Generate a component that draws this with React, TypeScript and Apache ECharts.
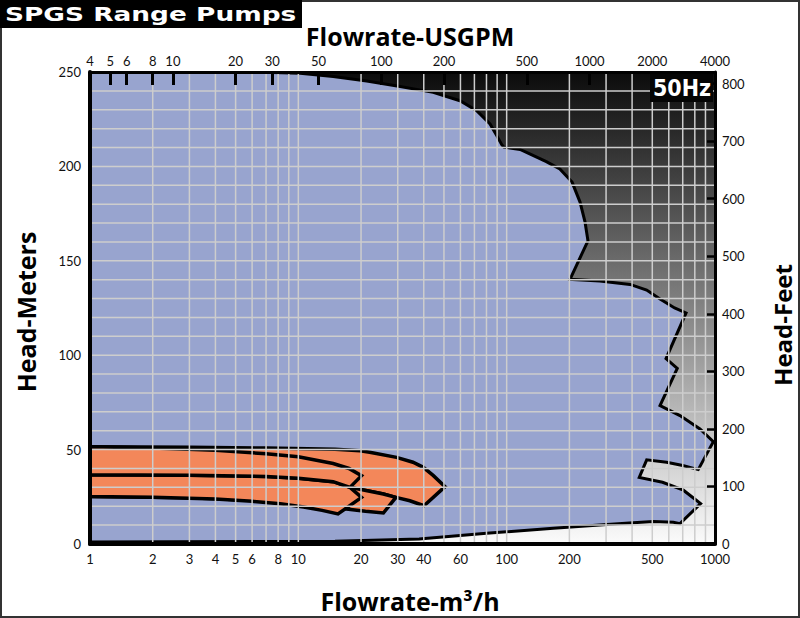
import React, { useEffect, useRef } from 'react';
import * as echarts from 'echarts';

// ---------- axis ticks / labels ----------
const BOTTOM_LABELS_M3H = [1, 2, 3, 4, 5, 6, 8, 10, 20, 30, 40, 60, 100, 200, 500, 1000];
const TOP_LABELS_GPM = [4, 5, 6, 8, 10, 20, 30, 50, 100, 200, 500, 1000, 2000, 4000];
const GRID_Q = [2, 3, 4, 5, 6, 7, 8, 9, 10, 20, 30, 40, 50, 60, 70, 80, 90, 100, 200, 300, 400, 500, 600, 700, 800, 900];
const GRID_H = [10, 20, 30, 40, 50, 60, 70, 80, 90, 100, 110, 120, 130, 140, 150, 160, 170, 180, 190, 200, 210, 220, 230, 240];
const Q_MIN = 1;
const Q_MAX = 1000;
const GPM_MIN = 4;
const GPM_MAX = 4000;
const HEAD_M_MAX = 250;
const FT_PER_M = 3.28084;

// ---------- range envelope (m3/h, m) ----------
const ENVELOPE_Q = [1, 6, 10.2, 14.7, 21.3, 30.8, 44.4, 59.7, 71.8, 83.2, 89.6, 94.7, 97, 116, 129, 155, 180, 206, 225, 237.7, 245.6, 201.4, 280, 391, 470, 544.6, 640, 726, 582, 659, 544.6, 679, 847, 982, 831, 700, 586, 470, 433, 560, 705, 853, 679, 631, 506, 405, 291, 167.5, 80, 38, 15, 1];
const ENVELOPE_H = [250, 250, 249.3, 247.6, 245.2, 242.3, 239.2, 234.8, 229.5, 222.5, 216.3, 211.5, 210.2, 209, 206.6, 202.5, 198.6, 191.7, 181.1, 170.6, 160.6, 140.2, 139.3, 137.5, 134.5, 129.8, 125, 122.4, 98.2, 93, 73.3, 68, 60.9, 54.2, 39.4, 41.6, 43.3, 44.6, 35.3, 32.7, 28.5, 21.4, 10.8, 11.5, 11.9, 11.2, 10.2, 8.3, 5.7, 2.6, 1.4, 1];

// ---------- SPGS pump areas (m3/h, m) ----------
const PUMP4_Q = [1, 3, 7, 15, 19.8, 22, 29.6, 35.5, 39.8, 44.5, 50.6, 40.1, 34.3, 29.4, 25.6, 22, 17.7, 14.7, 10, 7, 3, 1];
const PUMP4_H = [51.5, 51.2, 50.8, 50.2, 49.4, 48.6, 45.9, 43.3, 40.6, 36.2, 30.4, 20.3, 22.9, 24.7, 26.5, 27.9, 30, 33, 34.8, 35.8, 36.4, 36.7];
const PUMP3_Q = [1, 3, 7, 10, 14.7, 17.7, 22, 25.6, 29.4, 25.6, 21, 17, 14, 10, 6, 3, 1];
const PUMP3_H = [36.7, 36.4, 35.8, 34.8, 33, 30, 27.9, 26.5, 24.7, 16.4, 17.3, 18.5, 19.8, 21.2, 23.2, 24.5, 25.1];
const PUMP2_Q = [1, 3, 7, 10, 14.7, 17.7, 20.1, 15.5, 13, 10.6, 8.2, 6, 4, 2, 1];
const PUMP2_H = [36.7, 36.4, 35.8, 34.8, 33, 30, 24.7, 15.9, 17.8, 19.6, 21.3, 22.6, 23.8, 24.8, 25.1];
const PUMP1_Q = [1, 2, 4, 7, 10, 14.7, 17.5, 20.1, 17.7, 14.7, 10, 7, 3, 1];
const PUMP1_H = [51.5, 50.8, 49.7, 47.8, 46.2, 42.6, 40, 36.2, 30, 33, 34.8, 35.8, 36.4, 36.7];

const BLUE = '#98a4cf';
const ORANGE = '#f3875a';
const GRIDLINE = '#cdcdcd';
const LABEL_FONT = 'Lato, "Open Sans", sans-serif';
const TITLE_FONT = '"Open Sans", Lato, sans-serif';

const lg = (v: number) => Math.log10(v);

type Poly = { q: number[]; h: number[] };

function polygonSeries(polys: Poly[], fill: string, z: number, lw: number) {
  return {
    type: 'custom',
    xAxisIndex: 0,
    yAxisIndex: 0,
    z,
    silent: true,
    clip: true,
    data: polys.map((_, i) => [i, 0]),
    renderItem: (params: any, api: any) => {
      const p = polys[params.dataIndex];
      const points = p.q.map((q, k) => api.coord([lg(q), p.h[k]]));
      return {
        type: 'polygon',
        shape: { points },
        style: { fill, stroke: '#000', lineWidth: lw, lineJoin: 'miter' },
      };
    },
  };
}

function buildOption() {
  const vGrid = {
    type: 'custom',
    xAxisIndex: 0,
    yAxisIndex: 0,
    z: 6,
    silent: true,
    data: GRID_Q.map((q) => [lg(q), 0]),
    renderItem: (_p: any, api: any) => {
      const a = api.coord([api.value(0), 0]);
      const b = api.coord([api.value(0), HEAD_M_MAX]);
      return {
        type: 'line',
        shape: { x1: a[0], y1: a[1], x2: b[0], y2: b[1] },
        style: { stroke: GRIDLINE, lineWidth: 1.5 },
      };
    },
  };
  const hGrid = {
    type: 'custom',
    xAxisIndex: 0,
    yAxisIndex: 0,
    z: 6,
    silent: true,
    data: GRID_H.map((h) => [0, h]),
    renderItem: (_p: any, api: any) => {
      const a = api.coord([0, api.value(1)]);
      const b = api.coord([lg(Q_MAX), api.value(1)]);
      return {
        type: 'line',
        shape: { x1: a[0], y1: a[1], x2: b[0], y2: b[1] },
        style: { stroke: GRIDLINE, lineWidth: 1.5 },
      };
    },
  };

  const labelStyle = { color: '#111', fontSize: 13, fontFamily: LABEL_FONT };

  return {
    animation: false,
    backgroundColor: '#fff',
    grid: {
      left: 90,
      right: 85,
      top: 72,
      bottom: 74,
      show: true,
      borderWidth: 0,
      backgroundColor: {
        type: 'linear',
        x: 0,
        y: 0,
        x2: 0,
        y2: 1,
        colorStops: [
          { offset: 0, color: '#0b0b0b' },
          { offset: 1, color: '#fbfbfb' },
        ],
      },
    },
    xAxis: [
      {
        type: 'value',
        min: lg(Q_MIN),
        max: lg(Q_MAX),
        position: 'bottom',
        z: 8,
        axisLine: { show: true, onZero: false, lineStyle: { color: '#000', width: 4 } },
        axisTick: { show: false },
        splitLine: { show: false },
        axisLabel: {
          ...labelStyle,
          margin: 8,
          customValues: BOTTOM_LABELS_M3H.map(lg),
          formatter: (v: number) => String(Math.round(Math.pow(10, v))),
        },
      },
      {
        type: 'value',
        min: lg(GPM_MIN),
        max: lg(GPM_MAX),
        position: 'top',
        z: 8,
        axisLine: { show: true, onZero: false, lineStyle: { color: '#000', width: 3 } },
        axisTick: {
          show: true,
          inside: true,
          length: 13,
          lineStyle: { color: '#000', width: 3 },
          customValues: TOP_LABELS_GPM.map(lg),
        },
        splitLine: { show: false },
        axisLabel: {
          ...labelStyle,
          margin: 5,
          customValues: TOP_LABELS_GPM.map(lg),
          formatter: (v: number) => String(Math.round(Math.pow(10, v))),
        },
      },
    ],
    yAxis: [
      {
        type: 'value',
        min: 0,
        max: HEAD_M_MAX,
        interval: 50,
        position: 'left',
        z: 8,
        axisLine: { show: true, onZero: false, lineStyle: { color: '#000', width: 4 } },
        axisTick: { show: false },
        splitLine: { show: false },
        axisLabel: { ...labelStyle, margin: 9 },
      },
      {
        type: 'value',
        min: 0,
        max: HEAD_M_MAX * FT_PER_M,
        interval: 100,
        position: 'right',
        z: 8,
        axisLine: { show: true, onZero: false, lineStyle: { color: '#000', width: 3 } },
        axisTick: { show: true, inside: true, length: 8, lineStyle: { color: '#000', width: 2.5 } },
        splitLine: { show: false },
        axisLabel: {
          ...labelStyle,
          margin: 7,
          formatter: (v: number) => (Math.abs(v % 100) < 1e-6 ? String(v) : ''),
        },
      },
    ],
    series: [
      polygonSeries([{ q: ENVELOPE_Q, h: ENVELOPE_H }], BLUE, 2, 3),
      polygonSeries(
        [
          { q: PUMP4_Q, h: PUMP4_H },
          { q: PUMP3_Q, h: PUMP3_H },
          { q: PUMP2_Q, h: PUMP2_H },
          { q: PUMP1_Q, h: PUMP1_H },
        ],
        ORANGE,
        3,
        3.5,
      ),
      vGrid,
      hGrid,
    ],
    graphic: [
      {
        type: 'rect',
        z: 100,
        shape: { x: 1, y: 1, width: 798, height: 616 },
        style: { fill: 'none', stroke: '#333', lineWidth: 2 },
      },
      { type: 'rect', z: 100, shape: { x: 0, y: 0, width: 302, height: 28 }, style: { fill: '#000' } },
      {
        type: 'text',
        z: 101,
        x: 5,
        y: 14,
        scaleX: 1.32,
        style: {
          text: 'SPGS Range Pumps',
          fill: '#fff',
          fontFamily: '"DejaVu Sans", sans-serif',
          fontWeight: 'bold',
          fontSize: 20,
          align: 'left',
          verticalAlign: 'middle',
        },
      },
      { type: 'rect', z: 100, shape: { x: 650, y: 74, width: 63, height: 28 }, style: { fill: '#050505' } },
      {
        type: 'text',
        z: 101,
        x: 682,
        y: 88,
        style: {
          text: '50Hz',
          fill: '#fff',
          fontFamily: '"DejaVu Sans Condensed", "Roboto Condensed", "Liberation Sans Narrow", sans-serif',
          fontWeight: 'bold',
          fontSize: 23,
          align: 'center',
          verticalAlign: 'middle',
        },
      },
      {
        type: 'text',
        z: 101,
        x: 410,
        y: 36,
        style: {
          text: 'Flowrate-USGPM',
          fill: '#000',
          fontFamily: TITLE_FONT,
          fontWeight: 'bold',
          fontSize: 25,
          align: 'center',
          verticalAlign: 'middle',
        },
      },
      {
        type: 'text',
        z: 101,
        x: 410,
        y: 601,
        style: {
          text: 'Flowrate-m³/h',
          fill: '#000',
          fontFamily: TITLE_FONT,
          fontWeight: 'bold',
          fontSize: 25,
          align: 'center',
          verticalAlign: 'middle',
        },
      },
      {
        type: 'text',
        z: 101,
        x: 26,
        y: 312,
        rotation: Math.PI / 2,
        style: {
          text: 'Head-Meters',
          fill: '#000',
          fontFamily: TITLE_FONT,
          fontWeight: 'bold',
          fontSize: 25,
          align: 'center',
          verticalAlign: 'middle',
        },
      },
      {
        type: 'text',
        z: 101,
        x: 782,
        y: 325,
        rotation: Math.PI / 2,
        style: {
          text: 'Head-Feet',
          fill: '#000',
          fontFamily: TITLE_FONT,
          fontWeight: 'bold',
          fontSize: 24,
          align: 'center',
          verticalAlign: 'middle',
        },
      },
    ],
  };
}

export default function App() {
  const ref = useRef<HTMLDivElement>(null);
  useEffect(() => {
    if (!ref.current) return;
    const chart = echarts.init(ref.current, undefined, { renderer: 'svg' });
    chart.setOption(buildOption() as any);
    return () => chart.dispose();
  }, []);
  return (
    <div
      ref={ref}
      style={{ position: 'absolute', left: 0, top: 0, width: 800, height: 618, background: '#fff' }}
    />
  );
}
